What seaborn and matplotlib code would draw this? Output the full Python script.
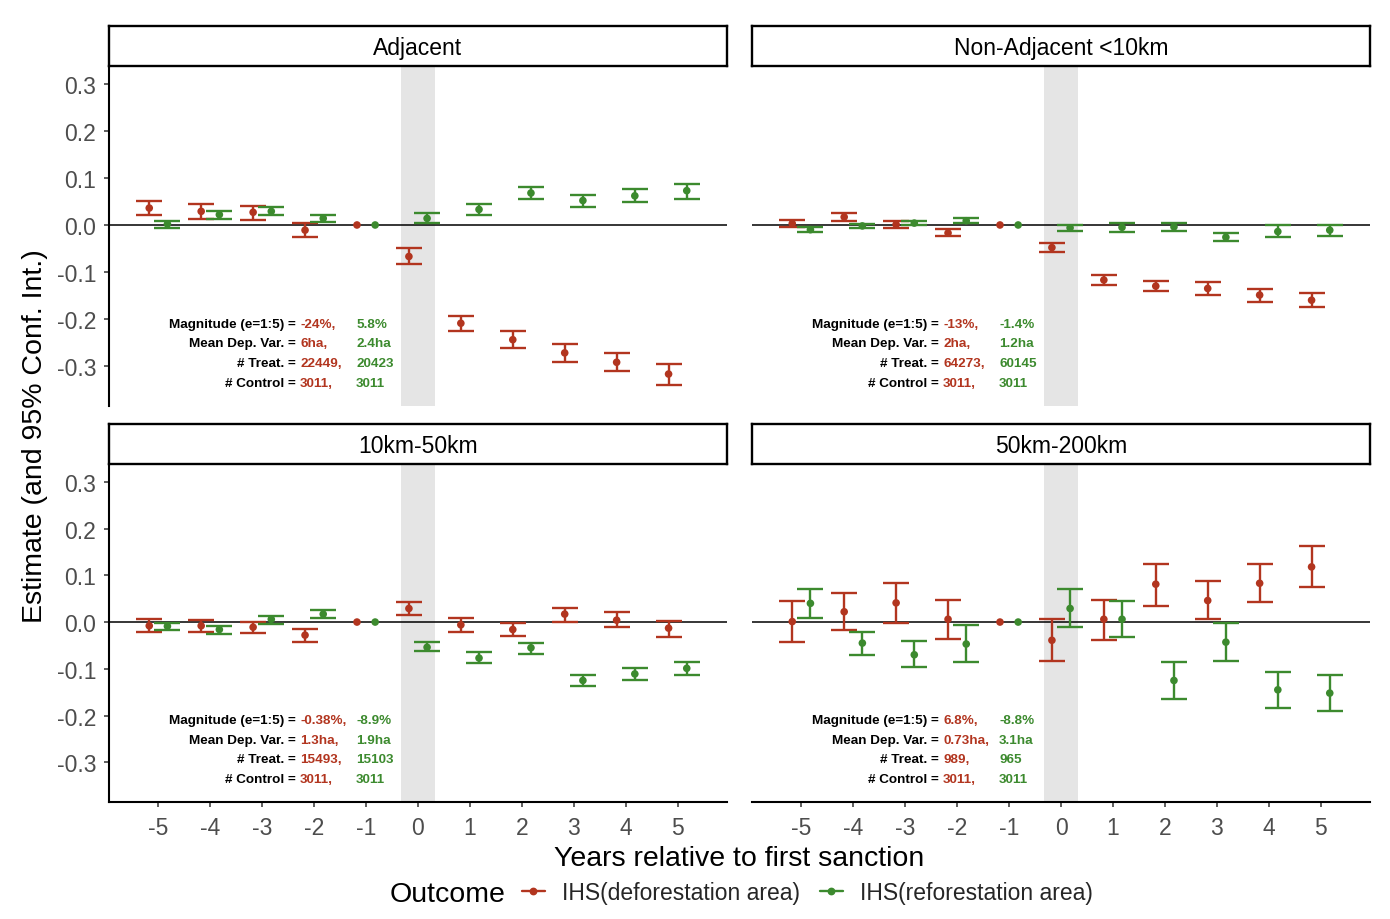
import numpy as np
import pandas as pd
import matplotlib
matplotlib.use("Agg")
import matplotlib.pyplot as plt
from matplotlib.lines import Line2D
import seaborn as sns

# ---- data ----
years = [-5, -4, -3, -2, -1, 0, 1, 2, 3, 4, 5]
panels = ["Adjacent", "Non-Adjacent <10km", "10km-50km", "50km-200km"]
outcomes = ["IHS(deforestation area)", "IHS(reforestation area)"]

# Adjacent
adj_def_est = [0.036, 0.029, 0.027, -0.011, 0.0, -0.067, -0.209, -0.244, -0.272, -0.292, -0.317]
adj_def_lo = [0.021, 0.013, 0.011, -0.026, np.nan, -0.084, -0.226, -0.262, -0.291, -0.311, -0.340]
adj_def_hi = [0.051, 0.045, 0.041, 0.004, np.nan, -0.049, -0.193, -0.226, -0.253, -0.272, -0.296]
adj_ref_est = [0.002, 0.022, 0.029, 0.014, 0.0, 0.014, 0.033, 0.068, 0.052, 0.062, 0.073]
adj_ref_lo = [-0.007, 0.013, 0.021, 0.006, np.nan, 0.004, 0.022, 0.055, 0.038, 0.048, 0.055]
adj_ref_hi = [0.009, 0.030, 0.038, 0.022, np.nan, 0.026, 0.045, 0.081, 0.064, 0.077, 0.087]

# Non-Adjacent <10km
na_def_est = [0.003, 0.017, 0.001, -0.017, 0.0, -0.048, -0.117, -0.130, -0.135, -0.149, -0.160]
na_def_lo = [-0.005, 0.009, -0.007, -0.024, np.nan, -0.058, -0.127, -0.141, -0.148, -0.163, -0.175]
na_def_hi = [0.011, 0.026, 0.009, -0.009, np.nan, -0.039, -0.106, -0.120, -0.122, -0.136, -0.145]
na_ref_est = [-0.010, -0.002, 0.004, 0.009, 0.0, -0.006, -0.005, -0.004, -0.026, -0.014, -0.011]
na_ref_lo = [-0.014, -0.006, 0.001, 0.004, np.nan, -0.013, -0.014, -0.012, -0.035, -0.026, -0.023]
na_ref_hi = [-0.005, 0.002, 0.008, 0.014, np.nan, 0.000, 0.004, 0.004, -0.016, 0.000, 0.000]

# 10km-50km
mid_def_est = [-0.008, -0.008, -0.011, -0.028, 0.0, 0.029, -0.006, -0.016, 0.017, 0.004, -0.013]
mid_def_lo = [-0.021, -0.021, -0.024, -0.042, np.nan, 0.015, -0.021, -0.030, 0.001, -0.011, -0.031]
mid_def_hi = [0.006, 0.005, 0.001, -0.015, np.nan, 0.043, 0.008, -0.002, 0.031, 0.021, 0.003]
mid_ref_est = [-0.009, -0.016, 0.006, 0.017, 0.0, -0.054, -0.077, -0.055, -0.125, -0.111, -0.099]
mid_ref_lo = [-0.018, -0.026, -0.004, 0.008, np.nan, -0.063, -0.088, -0.068, -0.137, -0.125, -0.113]
mid_ref_hi = [-0.001, -0.008, 0.013, 0.026, np.nan, -0.043, -0.064, -0.045, -0.114, -0.099, -0.086]

# 50km-200km
far_def_est = [0.001, 0.022, 0.041, 0.006, 0.0, -0.039, 0.006, 0.081, 0.046, 0.083, 0.118]
far_def_lo = [-0.042, -0.016, -0.001, -0.036, np.nan, -0.084, -0.039, 0.035, 0.006, 0.043, 0.075]
far_def_hi = [0.045, 0.063, 0.084, 0.048, np.nan, 0.007, 0.047, 0.125, 0.087, 0.125, 0.162]
far_ref_est = [0.040, -0.045, -0.070, -0.047, 0.0, 0.029, 0.006, -0.125, -0.043, -0.145, -0.152]
far_ref_lo = [0.008, -0.070, -0.096, -0.086, np.nan, -0.010, -0.031, -0.165, -0.084, -0.183, -0.191]
far_ref_hi = [0.070, -0.021, -0.040, -0.007, np.nan, 0.070, 0.046, -0.086, -0.003, -0.107, -0.113]

# annotation texts per panel
note_labels = ["Magnitude (e=1:5) =", "Mean Dep. Var. =", "# Treat. =", "# Control ="]
adj_notes_def = ["-24%,", "6ha,", "22449,", "3011,"]
adj_notes_ref = ["5.8%", "2.4ha", "20423", "3011"]
na_notes_def = ["-13%,", "2ha,", "64273,", "3011,"]
na_notes_ref = ["-1.4%", "1.2ha", "60145", "3011"]
mid_notes_def = ["-0.38%,", "1.3ha,", "15493,", "3011,"]
mid_notes_ref = ["-8.9%", "1.9ha", "15103", "3011"]
far_notes_def = ["6.8%,", "0.73ha,", "989,", "3011,"]
far_notes_ref = ["-8.8%", "3.1ha", "965", "3011"]

# ---- build long table ----
series = {
    "Adjacent": [(adj_def_est, adj_def_lo, adj_def_hi), (adj_ref_est, adj_ref_lo, adj_ref_hi)],
    "Non-Adjacent <10km": [(na_def_est, na_def_lo, na_def_hi), (na_ref_est, na_ref_lo, na_ref_hi)],
    "10km-50km": [(mid_def_est, mid_def_lo, mid_def_hi), (mid_ref_est, mid_ref_lo, mid_ref_hi)],
    "50km-200km": [(far_def_est, far_def_lo, far_def_hi), (far_ref_est, far_ref_lo, far_ref_hi)],
}
notes = {
    "Adjacent": (adj_notes_def, adj_notes_ref),
    "Non-Adjacent <10km": (na_notes_def, na_notes_ref),
    "10km-50km": (mid_notes_def, mid_notes_ref),
    "50km-200km": (far_notes_def, far_notes_ref),
}

dodge = {outcomes[0]: -0.175, outcomes[1]: 0.175}
rows = []
for p in panels:
    for o, (est, lo, hi) in zip(outcomes, series[p]):
        for yr, e, l, h in zip(years, est, lo, hi):
            rows.append({"panel": p, "outcome": o, "year": yr, "est": e, "lo": l, "hi": h,
                         "xpos": yr + dodge[o]})
df = pd.DataFrame(rows)

# ---- styling ----
sns.set_theme(style="white")
plt.rcParams["font.family"] = ["Liberation Sans", "DejaVu Sans"]

red = "#B2351F"
green = "#3C8A2E"
palette = {outcomes[0]: red, outcomes[1]: green}
tick_grey = "#4D4D4D"

W, H = 1390, 920
fig = plt.figure(figsize=(W / 100, H / 100), dpi=100)


def fx(px):
    return px / W


def fy(px):
    return 1 - px / H


# panel boxes in pixels
cols = [(109, 727), (752, 1370)]
rows_px = [((27, 67), (68, 407)), ((425, 465), (466, 803))]

cap = 0.25
for i, p in enumerate(panels):
    r, c = divmod(i, 2)
    (s_top, s_bot), (p_top, p_bot) = rows_px[r]
    x0, x1 = cols[c]
    ax = fig.add_axes([fx(x0), fy(p_bot), fx(x1) - fx(x0), fy(p_top) - fy(p_bot)])
    sax = fig.add_axes([fx(x0), fy(s_bot), fx(x1) - fx(x0), fy(s_top) - fy(s_bot)])

    # strip
    sax.set_xticks([])
    sax.set_yticks([])
    for sp in sax.spines.values():
        sp.set_visible(True)
        sp.set_color("black")
        sp.set_linewidth(1.7)
    sax.text(0.5, 0.47, p, ha="center", va="center", fontsize=16.5, color="black",
             transform=sax.transAxes)

    sub = df[df["panel"] == p]
    ax.axvspan(-0.32, 0.32, color="#E5E5E5", lw=0, zorder=0)
    ax.axhline(0, color="black", lw=1.1, zorder=1)

    for o in outcomes:
        so = sub[(sub["outcome"] == o) & sub["lo"].notna()]
        ax.vlines(so["xpos"], so["lo"], so["hi"], color=palette[o], lw=1.7, zorder=2)
        ax.hlines(so["lo"], so["xpos"] - cap, so["xpos"] + cap, color=palette[o], lw=1.7, zorder=2)
        ax.hlines(so["hi"], so["xpos"] - cap, so["xpos"] + cap, color=palette[o], lw=1.7, zorder=2)
    sns.scatterplot(data=sub, x="xpos", y="est", hue="outcome", palette=palette, ax=ax,
                    legend=False, s=30, linewidth=0, zorder=3)

    # annotation block
    nd, nr = notes[p]
    for k, lab in enumerate(note_labels):
        yy = -0.210 - 0.042 * k
        ax.text(-2.36, yy, lab, ha="right", va="center", fontsize=9.7,
                fontweight="bold", color="black")
        ax.text(-2.27, yy, nd[k], ha="left", va="center", fontsize=9.7,
                fontweight="bold", color=red)
        ax.text(-1.19, yy, nr[k], ha="left", va="center", fontsize=9.7,
                fontweight="bold", color=green)

    ax.set_xlim(-5.95, 5.95)
    ax.set_ylim(-0.385, 0.336)
    ax.set_xlabel("")
    ax.set_ylabel("")
    for sp in ax.spines.values():
        sp.set_visible(False)
    ax.set_xticks(years)
    ax.set_yticks([-0.3, -0.2, -0.1, 0.0, 0.1, 0.2, 0.3])
    ax.tick_params(axis="both", length=3.6, width=1.1, color="#333333",
                   labelsize=16.5, labelcolor=tick_grey)
    if c == 0:
        ax.spines["left"].set_visible(True)
        ax.spines["left"].set_color("black")
        ax.spines["left"].set_linewidth(1.5)
        ax.set_yticklabels(["-0.3", "-0.2", "-0.1", "0.0", "0.1", "0.2", "0.3"])
        ax.tick_params(axis="y", left=True, pad=5.5)
    else:
        ax.tick_params(axis="y", left=False, labelleft=False)
    if r == 1:
        ax.spines["bottom"].set_visible(True)
        ax.spines["bottom"].set_color("black")
        ax.spines["bottom"].set_linewidth(1.5)
        ax.set_xticklabels([str(y) for y in years])
        ax.tick_params(axis="x", bottom=True, pad=6.5)
    else:
        ax.tick_params(axis="x", bottom=False, labelbottom=False)

# axis titles
fig.text(fx(739.5), fy(859), "Years relative to first sanction", ha="center", va="center",
         fontsize=20.5, color="black")
fig.text(fx(35), fy(436), "Estimate (and 95% Conf. Int.)", ha="center", va="center",
         rotation=90, fontsize=20.5, color="black")

# legend
fig.text(fx(390), fy(895), "Outcome", ha="left", va="center", fontsize=20.5, color="black")
handles = [Line2D([], [], color=palette[o], lw=1.7, marker="o", markersize=4.6) for o in outcomes]
fig.legend(handles, outcomes, loc="center left", bbox_to_anchor=(fx(522), fy(894)),
           ncol=2, frameon=False, fontsize=16.5, handlelength=1.0, handletextpad=0.75,
           columnspacing=0.85, borderpad=0, borderaxespad=0)

fig.savefig("out.png", dpi=100)
